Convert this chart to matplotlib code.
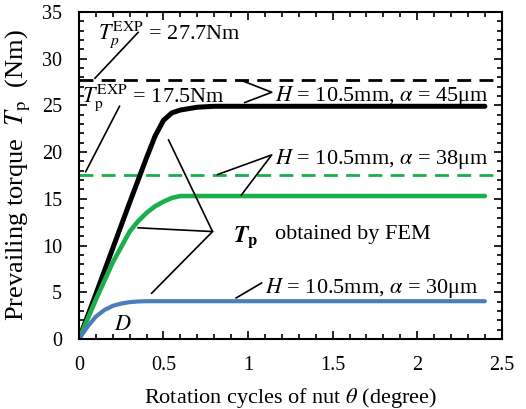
import matplotlib.pyplot as plt
from matplotlib.ticker import MultipleLocator

plt.rcParams['font.family'] = ['Liberation Serif', 'DejaVu Serif']
plt.rcParams['mathtext.fontset'] = 'stix'

# curves
x_45 = [0, 0.1, 0.2, 0.3, 0.4, 0.45, 0.5, 0.55, 0.6, 0.7, 0.8, 1.0, 1.5, 2.0, 2.4]
tp_45 = [0, 4.8, 9.7, 14.6, 19.4, 21.7, 23.4, 24.2, 24.5, 24.8, 24.9, 24.9, 24.9, 24.9, 24.9]

x_38 = [0, 0.1, 0.2, 0.3, 0.35, 0.4, 0.45, 0.5, 0.55, 0.6, 0.7, 1.0, 2.4]
tp_38 = [0, 4.2, 8.2, 11.5, 12.6, 13.5, 14.2, 14.7, 15.1, 15.3, 15.3, 15.3, 15.3]

x_30 = [0, 0.05, 0.1, 0.15, 0.2, 0.25, 0.3, 0.35, 0.4, 0.6, 1.0, 2.4]
tp_30 = [0, 1.3, 2.4, 3.1, 3.55, 3.8, 3.95, 4.02, 4.05, 4.05, 4.05, 4.05]

tp_exp_45 = 27.7
tp_exp_38 = 17.5

fig = plt.figure(figsize=(5.26, 4.09), dpi=100)
ax = fig.add_axes([0.150, 0.171, 0.804, 0.800])

green = '#1AAF4B'
blue = '#4A7EBB'

ax.axhline(tp_exp_45, color='black', lw=2, ls=(0, (5, 3)))
ax.axhline(tp_exp_38, color=green, lw=2, ls=(0, (5, 3)))
ax.plot(x_45, tp_45, color='black', lw=3.6, solid_capstyle='round')
ax.plot(x_38, tp_38, color=green, lw=3.3, solid_capstyle='round')
ax.plot(x_30, tp_30, color=blue, lw=3.0, solid_capstyle='round')

ax.set_xlim(0, 2.5)
ax.set_ylim(0, 35)
ax.set_xticks([0, 0.5, 1, 1.5, 2, 2.5])
ax.set_xticklabels(['0', '0.5', '1', '1.5', '2', '2.5'])
ax.xaxis.set_minor_locator(MultipleLocator(0.1))
ax.yaxis.set_major_locator(MultipleLocator(5))
ax.yaxis.set_minor_locator(MultipleLocator(1))
ax.tick_params(which='both', direction='in', top=True, right=True, labelsize=14.5, width=1.2)
ax.tick_params(which='major', length=6)
ax.tick_params(axis='x', which='major', pad=12)
ax.tick_params(axis='y', which='major', pad=12)
ax.tick_params(which='minor', length=3.5)
for s in ax.spines.values():
    s.set_linewidth(1.5)

ax.set_xlabel(r'Rotation cycles of nut $\theta$ (degree)', fontsize=16, labelpad=8)
ax.set_ylabel(r'Prevailing torque  $T_\mathrm{p}$  (Nm)', fontsize=19)
ax.yaxis.set_label_coords(-0.108, 0.5)

# leader lines
lk = dict(color='black', lw=1.2)
ax.plot([0.35, 0.095], [32.8, 27.9], **lk)
ax.plot([0.24, 0.04], [24.9, 17.9], **lk)
ax.plot([0.97, 1.14, 0.98], [27.6, 26.4, 25.3], **lk)
ax.plot([0.82, 1.14, 0.96], [17.6, 19.7, 15.4], **lk)
ax.plot([0.53, 0.79, 0.35], [21.3, 11.5, 11.9], **lk)
ax.plot([0.79, 0.43], [11.5, 4.9], **lk)
ax.plot([1.08, 0.93], [6.0, 4.4], **lk)

fs = 16
ax.text(0.11, 32.6, r'$T_p^{\mathrm{EXP}}$ = 27.7Nm', fontsize=fs, va='center')
ax.text(0.02, 25.8, r'$T_\mathrm{p}^{\mathrm{EXP}}$ = 17.5Nm', fontsize=fs, va='center')
ax.text(1.16, 26.0, r'$H$ = 10.5mm, $\alpha$ = 45μm', fontsize=fs, va='center')
ax.text(1.16, 19.3, r'$H$ = 10.5mm, $\alpha$ = 38μm', fontsize=fs, va='center')
ax.text(0.91, 10.9, r'$\boldsymbol{T}_\mathbf{p}$', fontsize=17, va='center')
ax.text(1.16, 11.2, 'obtained by FEM', fontsize=fs, va='center')
ax.text(1.10, 5.5, r'$H$ = 10.5mm, $\alpha$ = 30μm', fontsize=fs, va='center')
ax.text(0.21, 1.5, r'$D$', fontsize=fs, va='center')

fig.savefig('out.png', dpi=100)
